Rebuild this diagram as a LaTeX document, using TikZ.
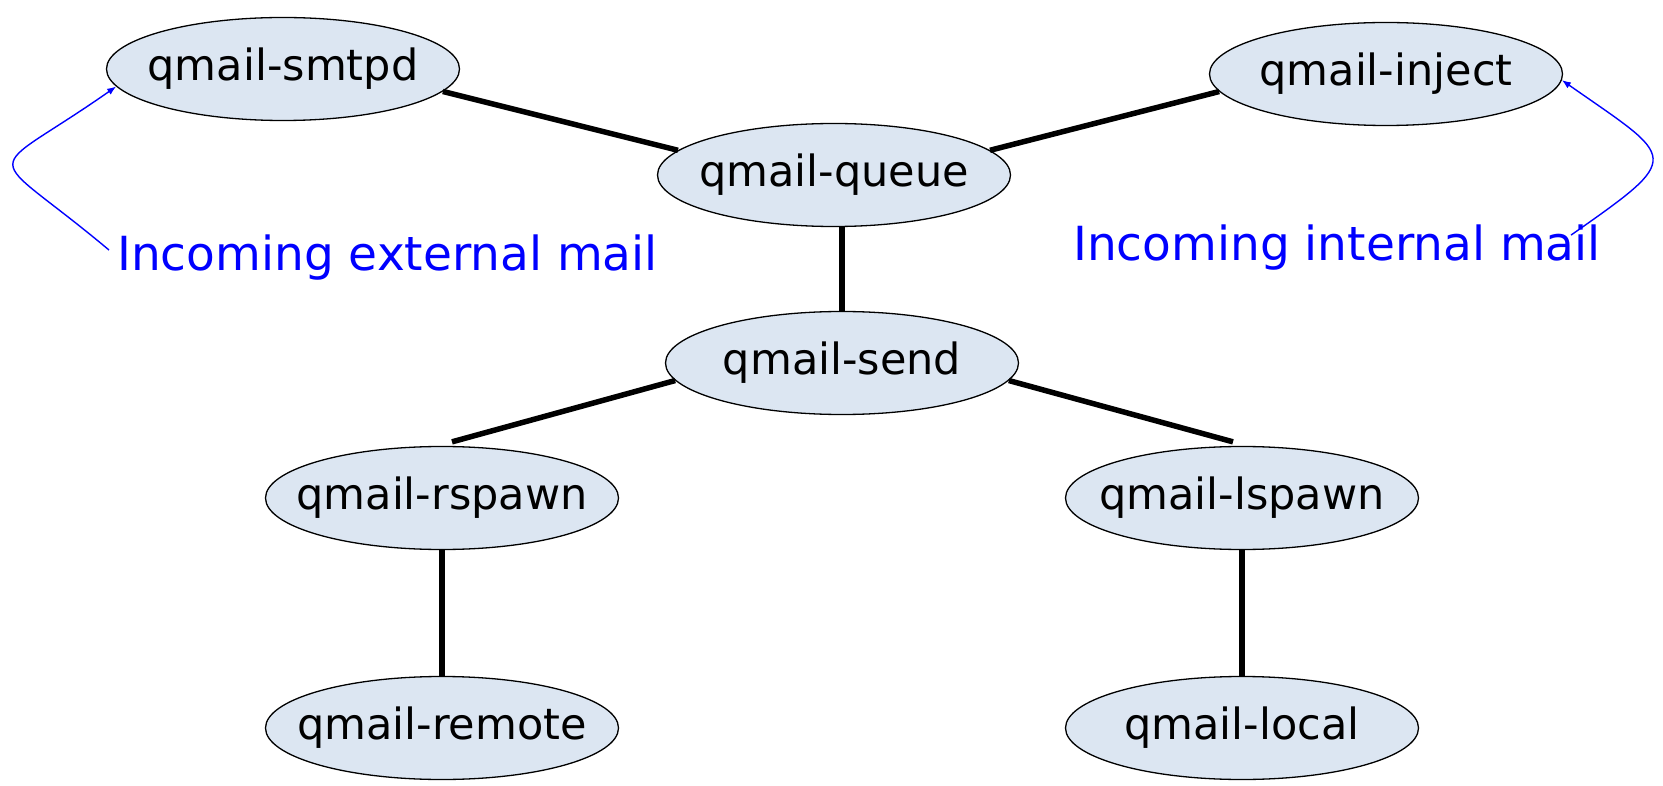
\documentclass[tikz,border=0pt]{standalone}
\usepackage{fontspec}
\setmainfont{DejaVu Sans}
\usetikzlibrary{arrows.meta,shapes.geometric}

\begin{document}
\begin{tikzpicture}[x=1pt, y=1pt, line join=round,
  proc/.style={ellipse, draw=black, line width=1.3pt, fill={rgb,255:red,220;green,230;blue,242},
    minimum width=353pt, minimum height=103pt, inner xsep=-25pt, inner ysep=0pt,
    font=\fontsize{43}{50}\selectfont},
  link/.style={line width=5.5pt},
  note/.style={text=blue, inner sep=0pt, font=\fontsize{47}{55}\selectfont},
  feed/.style={blue, line width=1.4pt, -{Latex[length=9pt,width=7pt]}}]
\useasboundingbox (0,0) rectangle (1663,-786);
% processes
\node[proc] (smtpd)  at (283,-69)  {qmail-smtpd};
\node[proc] (inject) at (1386,-74) {qmail-inject};
\node[proc] (queue)  at (834,-175) {qmail-queue};
\node[proc] (send)   at (842,-363) {qmail-send};
\node[proc] (rspawn) at (442,-498) {qmail-rspawn};
\node[proc] (lspawn) at (1242,-498) {qmail-lspawn};
\node[proc] (remote) at (442,-728) {qmail-remote};
\node[proc] (local)  at (1242,-728) {qmail-local};
% labels
\node[note, anchor=base west] (extmail) at (117,-271) {Incoming external mail};
\node[note, anchor=base west] (intmail) at (1073,-261) {Incoming internal mail};
% links
\draw[link] (smtpd.-8) -- (queue.171);
\draw[link] (queue.9) -- (inject.186);
\draw[link] (send.north) -- (queue.south -| send.north);
\draw[link] (send.186) -- ([xshift=10pt,yshift=4pt]rspawn.north);
\draw[link] (send.-6) -- ([xshift=-9pt,yshift=4pt]lspawn.north);
\draw[link] (rspawn) -- (remote);
\draw[link] (lspawn) -- (local);
% incoming mail
\draw[feed] ([xshift=-8pt,yshift=8pt]extmail.west) to[out=140, in=215, looseness=2.6] (smtpd.186);
\draw[feed] ([xshift=-30pt,yshift=-10pt]intmail.north east) to[out=35, in=-35, looseness=2.3] (inject.-2);
\end{tikzpicture}
\end{document}
